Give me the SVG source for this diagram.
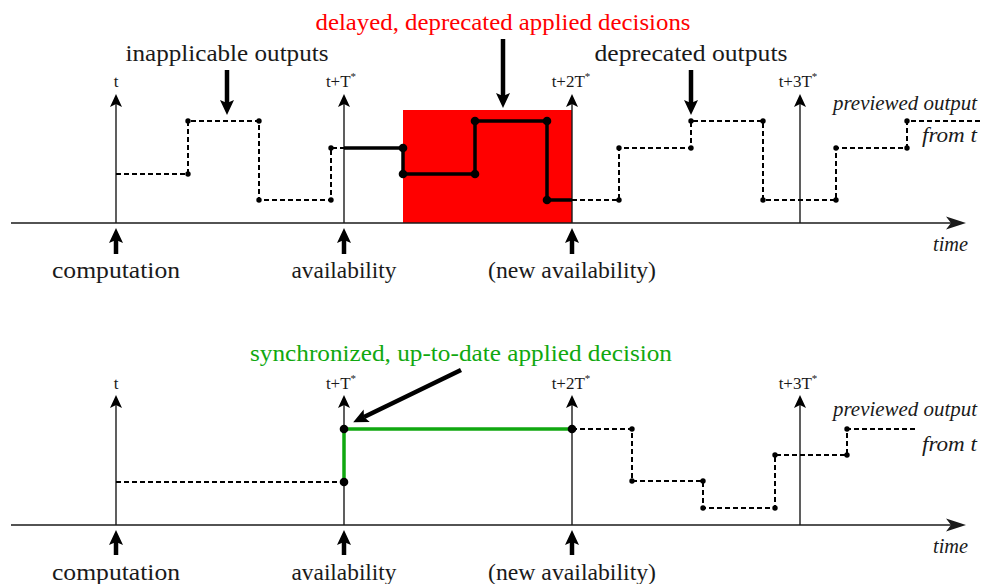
<svg xmlns="http://www.w3.org/2000/svg" width="981" height="584" viewBox="0 0 981 584">
<style>
  .lbl { font-size: 23px; text-anchor: middle; }
  .tick { font-size: 17px; text-anchor: middle; }
  .it { font-style: italic; font-size: 20px; text-anchor: end; }
  .axis { stroke: #1a1a1a; stroke-width: 1.4; fill: none; marker-end: url(#axisHead); }
  .vline { stroke: #1a1a1a; stroke-width: 1.4; fill: none; marker-end: url(#thinHead); }
  .thick { stroke: #000; stroke-width: 4.5; fill: none; marker-end: url(#thickHead); }
  .dash { stroke: #000; stroke-width: 2; stroke-dasharray: 5 3; fill: none; }
  .solid { stroke: #000; stroke-width: 3.5; fill: none; stroke-linejoin: miter; }
  .green { stroke: #10a810; stroke-width: 3.5; fill: none; }
  .sdot { fill: #000; }
  .bdot { fill: #000; }
</style>
<defs>
  <marker id="axisHead" markerUnits="userSpaceOnUse" viewBox="-6 -7 22 14" refX="0" refY="0" markerWidth="22" markerHeight="14" orient="auto">
    <path d="M-5,-6.5 L15,0 L-5,6.5 L0,0 z" fill="#1a1a1a"/>
  </marker>
  <marker id="thinHead" markerUnits="userSpaceOnUse" viewBox="-4 -7 15 14" refX="0" refY="0" markerWidth="15" markerHeight="14" orient="auto">
    <path d="M-3,-6 L10,0 L-3,6 L0,0 z" fill="#000"/>
  </marker>
  <marker id="thickHead" markerUnits="userSpaceOnUse" viewBox="-4 -8 18 16" refX="0" refY="0" markerWidth="18" markerHeight="16" orient="auto">
    <path d="M-3,-7 L12,0 L-3,7 L0,0 z" fill="#000"/>
  </marker>
</defs>

<!-- ================= TOP PANEL ================= -->
<g id="top-panel">
  <rect id="red-zone" x="403" y="110" width="169" height="113" fill="#ff0000"/>

  <g id="top-connectors">
    <line class="axis" x1="11" y1="223" x2="951" y2="223"/>
    <line class="vline" x1="116" y1="223" x2="116" y2="104"/>
    <line class="vline" x1="344" y1="223" x2="344" y2="104"/>
    <line class="vline" x1="572" y1="223" x2="572" y2="104"/>
    <line class="vline" x1="800" y1="223" x2="800" y2="104"/>

    <line class="thick" x1="116" y1="254" x2="116" y2="240"/>
    <line class="thick" x1="344" y1="254" x2="344" y2="240"/>
    <line class="thick" x1="572" y1="254" x2="572" y2="240"/>

    <line class="thick" x1="227" y1="70" x2="227" y2="103"/>
    <line class="thick" x1="503" y1="39" x2="503" y2="96"/>
    <line class="thick" x1="691" y1="70" x2="691" y2="103"/>
  </g>

  <g id="top-signal">
    <polyline class="dash" points="116,174 188,174 188,121 259,121 259,200 331,200 331,148 344,148"/>
    <polyline class="solid" points="344,148 403,148 403,174 475,174 475,121 547,121 547,200 572,200"/>
    <polyline class="dash" points="572,200 619,200 619,148 691,148 691,121 763,121 763,200 836,200 836,148 907,148 907,121 980,121"/>
    <g class="sdot">
      <circle cx="188" cy="174" r="2.7"/><circle cx="188" cy="121" r="2.7"/>
      <circle cx="259" cy="121" r="2.7"/><circle cx="259" cy="200" r="2.7"/>
      <circle cx="331" cy="200" r="2.7"/><circle cx="331" cy="148" r="2.7"/>
      <circle cx="619" cy="200" r="2.7"/><circle cx="619" cy="148" r="2.7"/>
      <circle cx="691" cy="148" r="2.7"/><circle cx="691" cy="121" r="2.7"/>
      <circle cx="763" cy="121" r="2.7"/><circle cx="763" cy="200" r="2.7"/>
      <circle cx="836" cy="200" r="2.7"/><circle cx="836" cy="148" r="2.7"/>
      <circle cx="907" cy="148" r="2.7"/><circle cx="907" cy="121" r="2.7"/>
    </g>
    <g class="bdot">
      <circle cx="403" cy="148" r="4.3"/><circle cx="403" cy="174" r="4.3"/>
      <circle cx="475" cy="174" r="4.3"/><circle cx="475" cy="121" r="4.3"/>
      <circle cx="547" cy="121" r="4.3"/><circle cx="547" cy="200" r="4.3"/>
    </g>
  </g>

  <g id="top-labels" font-family="Liberation Serif, DejaVu Serif, serif" fill="#1a1a1a">
    <text class="lbl" x="503" y="30" fill="#ff0000" textLength="375" lengthAdjust="spacingAndGlyphs">delayed, deprecated applied decisions</text>
    <text class="lbl" x="227" y="61" textLength="203" lengthAdjust="spacingAndGlyphs">inapplicable outputs</text>
    <text class="lbl" x="691" y="61" textLength="193" lengthAdjust="spacingAndGlyphs">deprecated outputs</text>
    <text class="tick" x="116" y="87">t</text>
    <text class="tick" x="341" y="87">t+T<tspan font-size="11" dy="-7">*</tspan></text>
    <text class="tick" x="571" y="87">t+2T<tspan font-size="11" dy="-7">*</tspan></text>
    <text class="tick" x="798" y="87">t+3T<tspan font-size="11" dy="-7">*</tspan></text>
    <text class="it" x="977" y="110" textLength="144" lengthAdjust="spacingAndGlyphs">previewed output</text>
    <text class="it" x="977" y="142" textLength="55" lengthAdjust="spacingAndGlyphs">from t</text>
    <text class="it" x="968" y="251" textLength="35" lengthAdjust="spacingAndGlyphs">time</text>
    <text class="lbl" x="116" y="278" textLength="128" lengthAdjust="spacingAndGlyphs">computation</text>
    <text class="lbl" x="344" y="278" textLength="105" lengthAdjust="spacingAndGlyphs">availability</text>
    <text class="lbl" x="572" y="278" textLength="168" lengthAdjust="spacingAndGlyphs">(new availability)</text>
  </g>
</g>

<!-- ================= BOTTOM PANEL ================= -->
<g id="bottom-panel">
  <g id="bottom-connectors">
    <line class="axis" x1="11" y1="525" x2="951" y2="525"/>
    <line class="vline" x1="116" y1="525" x2="116" y2="405"/>
    <line class="vline" x1="344" y1="525" x2="344" y2="405"/>
    <line class="vline" x1="572" y1="525" x2="572" y2="405"/>
    <line class="vline" x1="800" y1="525" x2="800" y2="405"/>

    <line class="thick" x1="116" y1="555" x2="116" y2="542"/>
    <line class="thick" x1="344" y1="555" x2="344" y2="542"/>
    <line class="thick" x1="572" y1="555" x2="572" y2="542"/>

    <line class="thick" x1="461" y1="370" x2="364" y2="417"/>
  </g>

  <g id="bottom-signal">
    <polyline class="dash" points="116,482 344,482"/>
    <polyline class="green" points="344,482 344,429 572,429"/>
    <polyline class="dash" points="572,429 632,429 632,481 703,481 703,508 775,508 775,455 847,455 847,429 918,429"/>
    <g class="sdot">
      <circle cx="632" cy="429" r="2.7"/><circle cx="632" cy="481" r="2.7"/>
      <circle cx="703" cy="481" r="2.7"/><circle cx="703" cy="508" r="2.7"/>
      <circle cx="775" cy="508" r="2.7"/><circle cx="775" cy="455" r="2.7"/>
      <circle cx="847" cy="455" r="2.7"/><circle cx="847" cy="429" r="2.7"/>
    </g>
    <g class="bdot">
      <circle cx="344" cy="482" r="4.3"/><circle cx="344" cy="429" r="4.3"/>
      <circle cx="572" cy="429" r="4.3"/>
    </g>
  </g>

  <g id="bottom-labels" font-family="Liberation Serif, DejaVu Serif, serif" fill="#1a1a1a">
    <text class="lbl" x="461" y="361" fill="#10a810" textLength="422" lengthAdjust="spacingAndGlyphs">synchronized, up-to-date applied decision</text>
    <text class="tick" x="116" y="389">t</text>
    <text class="tick" x="341" y="389">t+T<tspan font-size="11" dy="-7">*</tspan></text>
    <text class="tick" x="571" y="389">t+2T<tspan font-size="11" dy="-7">*</tspan></text>
    <text class="tick" x="798" y="389">t+3T<tspan font-size="11" dy="-7">*</tspan></text>
    <text class="it" x="977" y="416" textLength="144" lengthAdjust="spacingAndGlyphs">previewed output</text>
    <text class="it" x="977" y="451" textLength="55" lengthAdjust="spacingAndGlyphs">from t</text>
    <text class="it" x="968" y="553" textLength="35" lengthAdjust="spacingAndGlyphs">time</text>
    <text class="lbl" x="116" y="580" textLength="128" lengthAdjust="spacingAndGlyphs">computation</text>
    <text class="lbl" x="344" y="580" textLength="105" lengthAdjust="spacingAndGlyphs">availability</text>
    <text class="lbl" x="572" y="580" textLength="168" lengthAdjust="spacingAndGlyphs">(new availability)</text>
  </g>
</g>
</svg>
